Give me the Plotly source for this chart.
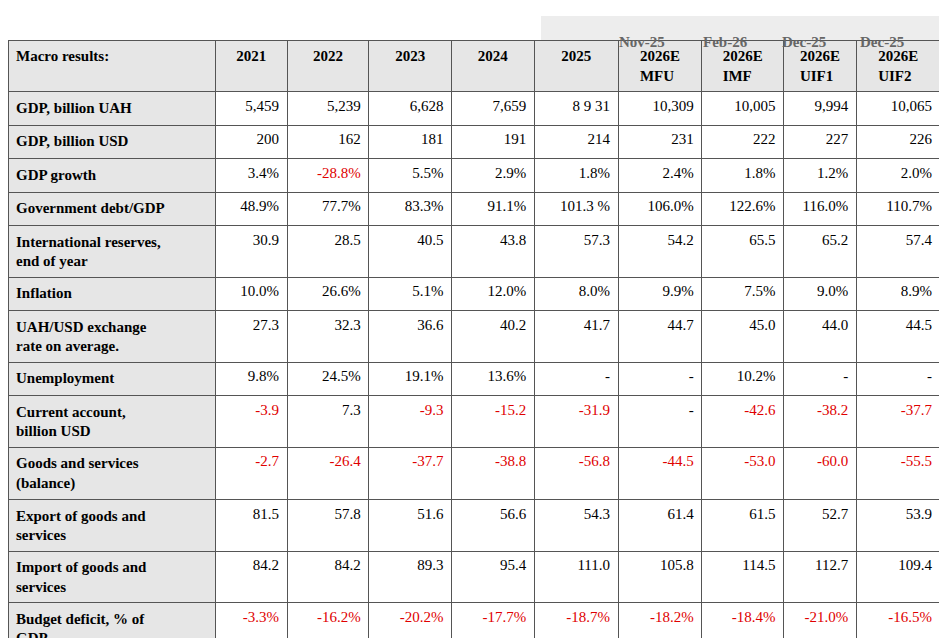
import plotly.graph_objects as go

dates = ["", "", "", "", "", "Nov-25", "Feb-26", "Dec-25", "Dec-25"]
headers = ["2021", "2022", "2023", "2024", "2025", "2026E<br>MFU", "2026E<br>IMF", "2026E<br>UIF1", "2026E<br>UIF2"]
labels = ["GDP, billion UAH", "GDP, billion USD", "GDP growth", "Government debt/GDP",
          "International reserves,<br>end of year", "Inflation", "UAH/USD exchange<br>rate on average.",
          "Unemployment", "Current account,<br>billion USD", "Goods and services<br>(balance)",
          "Export of goods and<br>services", "Import of goods and<br>services", "Budget deficit, % of<br>GDP"]
rows = [
    ["5,459", "5,239", "6,628", "7,659", "8 9 31", "10,309", "10,005", "9,994", "10,065"],
    ["200", "162", "181", "191", "214", "231", "222", "227", "226"],
    ["3.4%", "-28.8%", "5.5%", "2.9%", "1.8%", "2.4%", "1.8%", "1.2%", "2.0%"],
    ["48.9%", "77.7%", "83.3%", "91.1%", "101.3 %", "106.0%", "122.6%", "116.0%", "110.7%"],
    ["30.9", "28.5", "40.5", "43.8", "57.3", "54.2", "65.5", "65.2", "57.4"],
    ["10.0%", "26.6%", "5.1%", "12.0%", "8.0%", "9.9%", "7.5%", "9.0%", "8.9%"],
    ["27.3", "32.3", "36.6", "40.2", "41.7", "44.7", "45.0", "44.0", "44.5"],
    ["9.8%", "24.5%", "19.1%", "13.6%", "-", "-", "10.2%", "-", "-"],
    ["-3.9", "7.3", "-9.3", "-15.2", "-31.9", "-", "-42.6", "-38.2", "-37.7"],
    ["-2.7", "-26.4", "-37.7", "-38.8", "-56.8", "-44.5", "-53.0", "-60.0", "-55.5"],
    ["81.5", "57.8", "51.6", "56.6", "54.3", "61.4", "61.5", "52.7", "53.9"],
    ["84.2", "84.2", "89.3", "95.4", "111.0", "105.8", "114.5", "112.7", "109.4"],
    ["-3.3%", "-16.2%", "-20.2%", "-17.7%", "-18.7%", "-18.2%", "-18.4%", "-21.0%", "-16.5%"],
]

ncol = len(headers)
cols = [[r[j] for r in rows] for j in range(ncol)]
colors = [["black"] * len(labels)] + [["#e00000" if v.startswith("-") and len(v) > 1 else "black" for v in c] for c in cols]
cells_vals = [["<b>%s</b>" % l for l in labels]] + cols
widths = [208, 72, 82, 83, 83, 84, 84, 82, 73, 84]

W, H = 947, 638
# plotly tables render offset by ~8px; compensate in domain
tx0, tx1 = -3, 932
top = 32
fig = go.Figure(go.Table(
    domain=dict(x=[max(tx0, 0) / W, tx1 / W], y=[0, 1 - top / H]),
    columnwidth=widths,
    header=dict(values=["<br><b>Macro results:</b>"] + ["<b>%s</b>" % h for h in headers],
                align=["left"] + ["center"] * ncol,
                fill_color="#e6e6e6", line_color="#555", line_width=1,
                font=dict(family="Liberation Serif", size=15, color="black"), height=40),
    cells=dict(values=cells_vals, align=["left"] + ["right"] * ncol,
               fill_color=[["#e6e6e6"] * len(labels)] + [["white"] * len(labels)] * ncol,
               line_color="#555", line_width=1,
               font=dict(family="Liberation Serif", size=15, color=colors), height=33.5),
))

# date band above forecast columns (pixel positions of reference columns)
x0, x1 = 5, 940
xs = [x0]
for w in widths:
    xs.append(xs[-1] + w * (x1 - x0) / sum(widths))
fig.add_shape(type="rect", xref="paper", yref="paper", x0=xs[5] / W, x1=x1 / W,
              y0=1 - 40 / H, y1=1 - 8 / H, fillcolor="#ededed", line_width=0, layer="below")
for i, d in enumerate(dates):
    if d:
        fig.add_annotation(x=(xs[i + 1] + xs[i + 2]) / 2 / W, y=1 - 24 / H, xref="paper", yref="paper",
                           text="<b>%s</b>" % d, showarrow=False,
                           font=dict(family="Liberation Serif", size=15, color="#666"))

fig.update_layout(width=W, height=H, margin=dict(l=0, r=0, t=0, b=0),
                  paper_bgcolor="white", plot_bgcolor="white")
fig.write_html("out.html")
